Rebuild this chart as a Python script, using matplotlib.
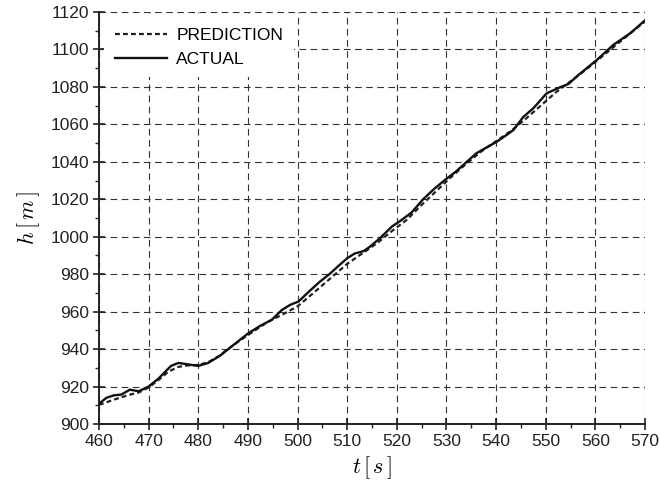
import matplotlib
matplotlib.use("Agg")
import matplotlib.pyplot as plt
from matplotlib.ticker import MultipleLocator

plt.rcParams["font.family"] = ["Liberation Sans", "DejaVu Sans"]
plt.rcParams["mathtext.fontset"] = "cm"

# ─── data ───
t_actual = [460, 461.5, 463, 464.5, 466.2, 468, 470, 472, 474.5, 476, 478, 480,
            482, 484.4, 487, 490, 492.6, 494.8, 496.8, 498.5, 500.2, 502.5,
            504.5, 506.5, 508.5, 510, 511.5, 513.3, 514.5, 516.6, 519, 521,
            523, 525.3, 527.5, 529.7, 532, 534.1, 536, 537.5, 540, 542.1,
            543.5, 545.5, 547.5, 550.2, 552.9, 554.6, 556.6, 558.5, 560.3,
            563.6, 567, 570]
h_actual = [910.8, 914, 915.3, 915.7, 918.3, 917.5, 920, 924.3, 931, 932.6,
            931.8, 931, 932.6, 936.5, 942, 948.3, 952.6, 955.6, 960.8, 963.6,
            965.4, 971.2, 976, 980.2, 985, 988.5, 991, 992.3, 994.5, 999.2,
            1005.4, 1009, 1013, 1020, 1025.5, 1030.3, 1035, 1040, 1044.5,
            1046.8, 1050.5, 1054.3, 1057, 1064, 1068.6, 1076.6, 1079.8, 1081.6,
            1086.4, 1090.5, 1094.4, 1102.4, 1108.6, 1115.5]

t_pred = [460, 463, 466, 468, 470, 472, 474, 476, 478, 480, 482, 484, 487,
          490, 494, 497, 500, 503, 506.5, 510, 513, 516, 519, 522, 525, 528,
          531, 534, 537, 540, 543, 546, 549, 552, 555, 558, 561, 564, 567, 570]
h_pred = [910.2, 913, 915.5, 916.8, 919.5, 923.5, 928, 930.5, 931.3, 931.5,
          933, 936, 942, 947.5, 954.5, 958.5, 962.8, 969.5, 977.5, 985.5, 991,
          996.5, 1003, 1009, 1017, 1024.5, 1032, 1039, 1045.5, 1051, 1056.5,
          1063, 1070, 1077, 1083, 1089, 1095.5, 1102, 1108.5, 1115]

fig = plt.figure(figsize=(6.61, 4.93), dpi=100)
ax = fig.add_axes([0.1498, 0.140, 0.826, 0.8357])

ax.plot(t_pred, h_pred, color="#222222", lw=1.6, linestyle=(0, (2.2, 1.4)),
        label="PREDICTION", zorder=3)
ax.plot(t_actual, h_actual, color="#111111", lw=1.7, label="ACTUAL", zorder=4)

ax.set_xlim(460, 570)
ax.set_ylim(900, 1120)
ax.xaxis.set_major_locator(MultipleLocator(10))
ax.xaxis.set_minor_locator(MultipleLocator(5))
ax.yaxis.set_major_locator(MultipleLocator(20))
ax.yaxis.set_minor_locator(MultipleLocator(10))

ax.grid(True, which="major", color="#333333", lw=0.8,
        linestyle=(0, (6, 4)))
ax.set_axisbelow(True)

for s in ("top", "right"):
    ax.spines[s].set_visible(False)
for s in ("left", "bottom"):
    ax.spines[s].set_linewidth(1.4)
    ax.spines[s].set_color("#222222")

ax.tick_params(which="major", direction="inout", length=8, width=1.2,
               labelsize=12.5, colors="#222222", pad=3)
ax.tick_params(which="minor", direction="out", length=3, width=1.0,
               colors="#222222")

ax.set_xlabel(r"$t\,[\,s\,]$", fontsize=16, labelpad=4)
ax.set_ylabel(r"$h\,[\,m\,]$", fontsize=16, labelpad=6)

leg = ax.legend(loc="upper left", fontsize=12.5, frameon=True, fancybox=False,
                edgecolor="none", facecolor="white", framealpha=1,
                handlelength=3.0, handletextpad=0.55, labelspacing=0.5,
                borderaxespad=0.3, borderpad=0.6)
leg.set_zorder(5)

fig.savefig("out.png", dpi=100, facecolor="white")
